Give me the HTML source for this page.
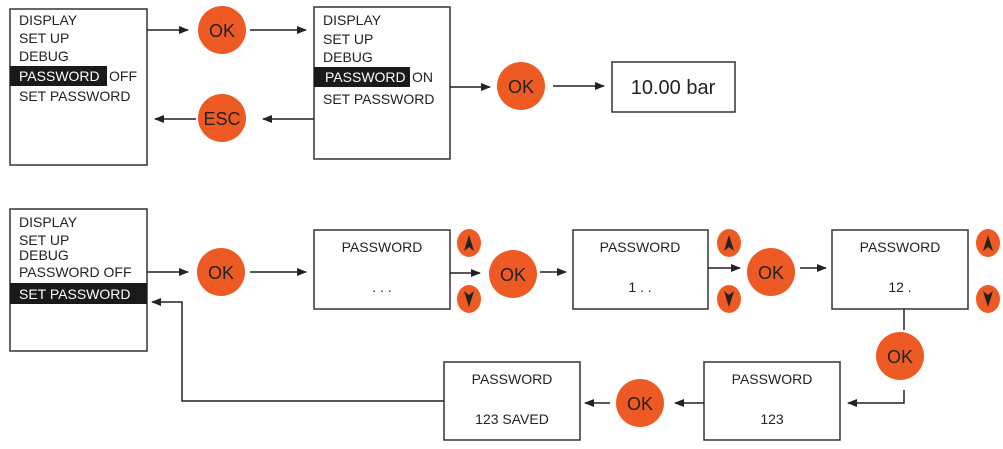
<!DOCTYPE html>
<html><head><meta charset="utf-8"><style>
html,body{margin:0;padding:0;background:#fff;}
svg{display:block;font-family:"Liberation Sans",sans-serif;}
</style></head><body>
<svg width="1003" height="449" viewBox="0 0 1003 449" xmlns="http://www.w3.org/2000/svg">
<defs>
<marker id="a" markerWidth="10" markerHeight="8" refX="9" refY="4" orient="auto" markerUnits="userSpaceOnUse">
<path d="M0,0 L10,4 L0,8 Z" fill="#222"/></marker>
</defs>
<g fill="none" stroke="#333" stroke-width="1.5">
<rect x="10" y="9" width="137" height="156"/>
<rect x="314" y="7" width="136" height="152"/>
<rect x="612" y="62" width="123" height="50"/>
<rect x="10" y="209" width="137" height="142"/>
<rect x="314" y="230" width="136" height="79"/>
<rect x="573" y="230" width="135" height="79"/>
<rect x="832" y="230" width="136" height="79"/>
<rect x="704" y="362" width="136" height="78"/>
<rect x="444" y="362" width="136" height="78"/>
</g>
<g stroke="#222" stroke-width="1.5" fill="none" marker-end="url(#a)">
<line x1="147" y1="30" x2="188" y2="30"/>
<line x1="250" y1="30" x2="306" y2="30"/>
<line x1="450" y1="87" x2="490" y2="87"/>
<line x1="553" y1="86" x2="604" y2="86"/>
<line x1="314" y1="119" x2="263" y2="119"/>
<line x1="196" y1="119" x2="155" y2="119"/>
<line x1="147" y1="272" x2="188" y2="272"/>
<line x1="250" y1="272" x2="306" y2="272"/>
<line x1="450" y1="273" x2="480" y2="273"/>
<line x1="540" y1="272" x2="566" y2="272"/>
<line x1="708" y1="268" x2="740" y2="268"/>
<line x1="800" y1="268" x2="826" y2="268"/>
<polyline points="904,390 904,403 848,403"/>
<line x1="704" y1="403" x2="675" y2="403"/>
<line x1="610" y1="403" x2="585" y2="403"/>
<polyline points="444,401 182,401 182,302 152,302"/>
</g>
<line x1="904" y1="309" x2="904" y2="330" stroke="#222" stroke-width="1.5"/>
<g fill="#ee5a24">
<circle cx="222" cy="30" r="24"/>
<circle cx="222" cy="118" r="24"/>
<circle cx="521" cy="86" r="24"/>
<circle cx="221" cy="272" r="24"/>
<circle cx="513" cy="274" r="24"/>
<circle cx="771" cy="272" r="24"/>
<circle cx="900" cy="356" r="24"/>
<circle cx="640" cy="403" r="24"/>
<ellipse cx="469" cy="243" rx="12" ry="14"/>
<ellipse cx="469" cy="299" rx="12" ry="14"/>
<ellipse cx="729" cy="243" rx="12" ry="14"/>
<ellipse cx="729" cy="299" rx="12" ry="14"/>
<ellipse cx="988" cy="243" rx="12" ry="14"/>
<ellipse cx="988" cy="299" rx="12" ry="14"/>
</g>
<g fill="#222">
<path d="M469,235 L474,251 L469,247 L464,251 Z"/>
<path d="M469,307 L474,291 L469,295 L464,291 Z"/>
<path d="M729,235 L734,251 L729,247 L724,251 Z"/>
<path d="M729,307 L734,291 L729,295 L724,291 Z"/>
<path d="M988,235 L993,251 L988,247 L983,251 Z"/>
<path d="M988,307 L993,291 L988,295 L983,291 Z"/>
</g>
<g font-size="18" fill="#222" text-anchor="middle">
<text x="222" y="37">OK</text>
<text x="222" y="125">ESC</text>
<text x="521" y="93">OK</text>
<text x="221" y="279">OK</text>
<text x="513" y="281">OK</text>
<text x="771" y="279">OK</text>
<text x="900" y="363">OK</text>
<text x="640" y="410">OK</text>
</g>
<rect x="10" y="66" width="97" height="20" fill="#1a1a1a"/>
<rect x="314" y="67" width="96" height="20" fill="#1a1a1a"/>
<rect x="10" y="283" width="137" height="21" fill="#1a1a1a"/>
<g font-size="14" fill="#222">
<text x="19" y="25">DISPLAY</text>
<text x="19" y="43">SET UP</text>
<text x="19" y="61">DEBUG</text>
<text x="19" y="81" fill="#fff">PASSWORD</text><text x="109" y="81">OFF</text>
<text x="19" y="101">SET PASSWORD</text>
<text x="323" y="25">DISPLAY</text>
<text x="323" y="44">SET UP</text>
<text x="323" y="62">DEBUG</text>
<text x="325" y="82" fill="#fff">PASSWORD</text><text x="412" y="82">ON</text>
<text x="323" y="104">SET PASSWORD</text>
<text x="19" y="227">DISPLAY</text>
<text x="19" y="245">SET UP</text>
<text x="19" y="260">DEBUG</text>
<text x="19" y="277">PASSWORD OFF</text>
<text x="19" y="299" fill="#fff">SET PASSWORD</text>
</g>
<text x="673" y="94" font-size="20" fill="#222" text-anchor="middle">10.00 bar</text>
<g font-size="14" fill="#222" text-anchor="middle">
<text x="382" y="252">PASSWORD</text>
<text x="382" y="292">. . .</text>
<text x="640" y="252">PASSWORD</text>
<text x="640" y="292">1 . .</text>
<text x="900" y="252">PASSWORD</text>
<text x="900" y="292">12 .</text>
<text x="772" y="384">PASSWORD</text>
<text x="772" y="424">123</text>
<text x="512" y="384">PASSWORD</text>
<text x="512" y="424">123 SAVED</text>
</g>
</svg>
</body></html>
